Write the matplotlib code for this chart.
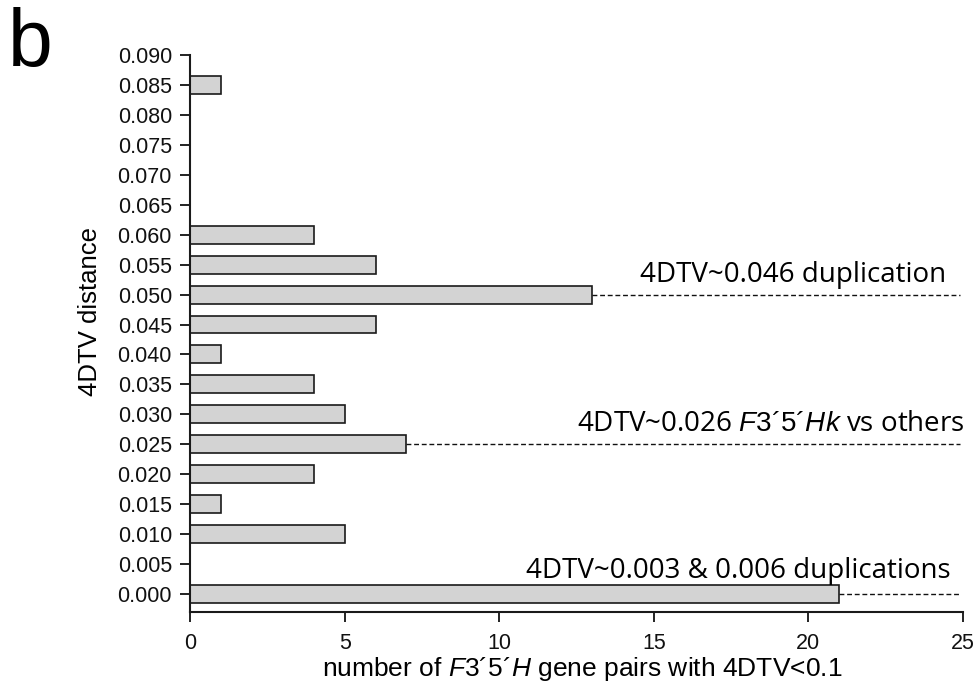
import numpy as np
import matplotlib
matplotlib.use("Agg")
import matplotlib.pyplot as plt

plt.rcParams['font.family'] = ['Liberation Sans', 'DejaVu Sans']
plt.rcParams['mathtext.fontset'] = 'custom'
plt.rcParams['mathtext.it'] = 'Liberation Sans:italic'
plt.rcParams['mathtext.rm'] = 'Liberation Sans'

# 4DTV 距离分箱与基因对数量
distance = [0.000, 0.005, 0.010, 0.015, 0.020, 0.025, 0.030, 0.035, 0.040,
            0.045, 0.050, 0.055, 0.060, 0.065, 0.070, 0.075, 0.080, 0.085, 0.090]
counts = [21, 0, 5, 1, 4, 7, 5, 4, 1, 6, 13, 6, 4, 0, 0, 0, 0, 1, 0]

# 注释所对应的分箱
notes = [
    (0.050, '4DTV~0.046 duplication'),
    (0.025, r'4DTV~0.026 $\mathit{F3´5´Hk}$ vs others'),
    (0.000, '4DTV~0.003 & 0.006 duplications'),
]
note_x = [24.45, 25.05, 24.6]
note_dy = [0.0021, 0.0022, 0.0026]

fig = plt.figure(figsize=(9.78, 6.86), dpi=100)
ax = fig.add_axes([0.1943, 0.1079, 0.7904, 0.8119])

ax.barh(distance, counts, height=0.003, color='#d3d3d3', edgecolor='#1a1a1a', linewidth=1.2)

for (y, txt), xr, dy in zip(notes, note_x, note_dy):
    c = counts[distance.index(y)]
    ax.plot([c, 24.9], [y, y], ls=(0, (3.5, 2)), color='#111111', lw=1.0)
    ax.text(xr, y + dy, txt, ha='right', va='baseline', fontsize=20,
            family=['Open Sans', 'DejaVu Sans'])

ax.set_xlim(0, 25)
ax.set_ylim(-0.003, 0.090)
ax.set_xticks([0, 5, 10, 15, 20, 25])
ax.set_yticks(distance)
ax.set_yticklabels(['%.3f' % d for d in distance])

for s in ['top', 'right']:
    ax.spines[s].set_visible(False)
for s in ['left', 'bottom']:
    ax.spines[s].set_linewidth(1.5)
    ax.spines[s].set_color('#1a1a1a')
ax.tick_params(direction='out', length=7, width=1.3, labelsize=15.5, colors='#111111', pad=6)
ax.tick_params(axis='x', pad=8)

ax.set_xlabel(r'number of $\mathit{F3´5´H}$ gene pairs with 4DTV<0.1', fontsize=19)
ax.set_ylabel('4DTV distance', fontsize=18.5)
ax.xaxis.set_label_coords(0.507, -0.077)
ax.yaxis.set_label_coords(-0.114, 0.540)

fig.text(0.008, 0.99, 'b', fontsize=58, va='top', ha='left')

fig.savefig('out.png', dpi=100)
